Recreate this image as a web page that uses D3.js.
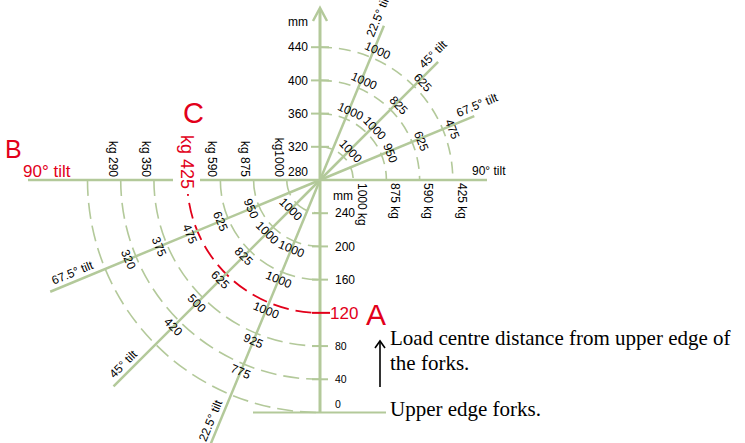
<!DOCTYPE html>
<html>
<head>
<meta charset="utf-8">
<script src="https://cdn.jsdelivr.net/npm/d3@7"></script>
<style>
  body { margin: 0; background: #fff; }
  svg { display: block; }
  text { font-family: "Liberation Sans", Arial, sans-serif; }
  text.note { font-family: "Liberation Serif", "Times New Roman", serif; }
</style>
</head>
<body>
<svg width="745" height="443"></svg>
<script>
var width = 745,
    height = 443;

// chart values
var upperTicks = [280, 320, 360, 400, 440];          // mm, tilted part of scale
var lowerTicks = [240, 200, 160, 120, 80, 40, 0];    // mm, upright part of scale
var tilts = [22.5, 45, 67.5];
// loads (kg) on each arc, by tilt 22.5 / 45 / 67.5
var upperLoads = [[null, 1000, null], [1000, 1000, 950], [1000, 825, 625], [1000, 625, 475]];
var lowerLoads = [[null, 1000, null], [1000, 1000, 950], [1000, 825, 625], [1000, 625, 475],
                  [925, 500, 375], [775, 420, 320], [null, null, null]];
// loads at 90 degree tilt
var upperFlat = [1000, 875, 590, 425];
var lowerFlat = [1000, 875, 590, 425, 350, 290];
var markedMm = 120, markedKg = 425;

var green = "#b3c99a", red = "#e2001a";
var cx = 320, cy = 180;

var svg = d3.select("svg");

// radius scales
var rUp = d3.scaleLinear().domain([280, 440]).range([0, 132.8]);
var rLow = d3.scaleLinear().domain([280, 0]).range([0, 232.5]);

var toRad = Math.PI / 180;

// arcs
var arcs = svg.append("g").attr("fill", "none");
upperTicks.slice(1).forEach(function (mm) {
    var r = rUp(mm), p = d3.path();
    p.moveTo(cx, cy - r);
    p.arc(cx, cy, r, -Math.PI / 2, 0);
    arcs.append("path").attr("d", p.toString())
        .attr("stroke", green).attr("stroke-width", 1.6)
        .attr("stroke-dasharray", "12,7");
});
lowerTicks.forEach(function (mm) {
    var r = rLow(mm), p = d3.path();
    p.moveTo(cx - r, cy);
    p.arc(cx, cy, r, Math.PI, Math.PI / 2, true);
    arcs.append("path").attr("d", p.toString())
        .attr("stroke", mm == markedMm ? red : green)
        .attr("stroke-width", mm == markedMm ? 1.8 : 1.6)
        .attr("stroke-dasharray", "16,7");
});

// radial tilt lines
var lines = svg.append("g").attr("stroke", green).attr("stroke-width", 2.5);
tilts.concat([90]).forEach(function (t) {
    var a = t * toRad;
    lines.append("line")
        .attr("x1", cx).attr("y1", cy)
        .attr("x2", cx + 167 * Math.sin(a)).attr("y2", cy - 167 * Math.cos(a));
    lines.append("line")
        .attr("x1", cx).attr("y1", cy)
        .attr("x2", cx - 292 * Math.sin(a)).attr("y2", cy + 292 * Math.cos(a));
});

// vertical axis
svg.append("line").attr("x1", cx).attr("x2", cx).attr("y1", 9).attr("y2", rLow(0) + cy)
    .attr("stroke", green).attr("stroke-width", 3);
svg.append("path").attr("d", "M" + (cx - 7) + ",21L" + cx + ",8L" + (cx + 7) + ",21")
    .attr("fill", "none").attr("stroke", green).attr("stroke-width", 2.5);
// upper edge forks
svg.append("line").attr("x1", 253).attr("x2", 386)
    .attr("y1", cy + rLow(0)).attr("y2", cy + rLow(0))
    .attr("stroke", green).attr("stroke-width", 2);

// ticks
upperTicks.slice(1).forEach(function (mm) {
    svg.append("line").attr("x1", cx - 9).attr("x2", cx + 9)
        .attr("y1", cy - rUp(mm)).attr("y2", cy - rUp(mm))
        .attr("stroke", green).attr("stroke-width", 2);
});
lowerTicks.slice(0, -1).forEach(function (mm) {
    svg.append("line").attr("x1", cx - 8).attr("x2", cx + (mm == markedMm ? 10 : 8))
        .attr("y1", cy + rLow(mm)).attr("y2", cy + rLow(mm))
        .attr("stroke", mm == markedMm ? red : green).attr("stroke-width", 2);
});

// tick labels
svg.append("g").selectAll("text").data(upperTicks).enter().append("text")
    .attr("x", 308).attr("y", function (d) { return Math.min(cy - rUp(d), cy - 8); })
    .attr("dy", "0.35em").attr("text-anchor", "end").attr("font-size", 12)
    .text(function (d) { return d; });
svg.append("text").attr("x", 308).attr("y", 26).attr("text-anchor", "end")
    .attr("font-size", 12).text("mm");
svg.append("g").selectAll("text").data(lowerTicks).enter().append("text")
    .attr("x", function (d) { return d == markedMm ? 330 : 335; })
    .attr("y", function (d) { return Math.min(cy + rLow(d), cy + rLow(0) - 8); })
    .attr("dy", "0.35em")
    .attr("font-size", function (d) { return d == markedMm ? 17 : (d < 120 ? 10.5 : 12); })
    .attr("fill", function (d) { return d == markedMm ? red : "#000"; })
    .text(function (d) { return d; });
svg.append("text").attr("x", 333).attr("y", 200).attr("font-size", 12).text("mm");

// load labels on arcs
var lab = svg.append("g").attr("font-size", 12).attr("text-anchor", "middle");
upperLoads.forEach(function (row, i) {
    var R = rUp(upperTicks[i + 1]) + 9;
    row.forEach(function (v, j) {
        if (v == null) return;
        var t = tilts[j] + 1.5, a = t * toRad;
        lab.append("text")
            .attr("transform", "translate(" + (cx + R * Math.sin(a)) + "," + (cy - R * Math.cos(a)) + ") rotate(" + t + ")")
            .attr("dy", "0.35em").text(v);
    });
});
lowerLoads.forEach(function (row, i) {
    var R = rLow(lowerTicks[i]) + 8;
    row.forEach(function (v, j) {
        if (v == null) return;
        var t = tilts[j], a = t * toRad;
        lab.append("text")
            .attr("transform", "translate(" + (cx - R * Math.sin(a)) + "," + (cy + R * Math.cos(a)) + ") rotate(" + t + ")")
            .attr("dy", "0.35em").text(v);
    });
});

// 90 degree loads
upperFlat.forEach(function (v, i) {
    svg.append("text")
        .attr("transform", "translate(" + (cx + rUp(upperTicks[i + 1]) + 9) + "," + (cy + 3) + ") rotate(90)")
        .attr("dy", "0.35em").attr("font-size", 12).text(v + " kg");
});
// gap behind the marked load
svg.append("rect").attr("x", 173).attr("y", 128).attr("width", 27).attr("height", 66).attr("fill", "#fff");
lowerFlat.forEach(function (v, i) {
    var x = cx - rLow(lowerTicks[i]);
    var marked = v == markedKg;
    svg.append("text")
        .attr("transform", "translate(" + (marked ? x : x - 8) + "," + (marked ? 189 : 177) + ") rotate(90)")
        .attr("dy", "0.35em").attr("text-anchor", "end")
        .attr("font-size", marked ? 18 : 12)
        .attr("fill", marked ? red : "#000")
        .text(v == 1000 ? "kg" + v : "kg " + v);
});

// tilt labels
tilts.concat([90]).forEach(function (t) {
    var a = t * toRad, rot = -(90 - t);
    svg.append("text")
        .attr("transform", "translate(" + (cx + 152 * Math.sin(a)) + "," + (cy - 152 * Math.cos(a)) + ") rotate(" + rot + ")")
        .attr("y", -5).attr("font-size", 12).text(t + "° tilt");
});
tilts.forEach(function (t) {
    var a = t * toRad, rot = -(90 - t);
    svg.append("text")
        .attr("transform", "translate(" + (cx - 286 * Math.sin(a)) + "," + (cy + 286 * Math.cos(a)) + ") rotate(" + rot + ")")
        .attr("y", -5).attr("font-size", 12).text(t + "° tilt");
});
svg.append("text").attr("x", 23).attr("y", 177).attr("font-size", 17).attr("fill", red).text("90° tilt");

// letters
svg.append("text").attr("x", 5).attr("y", 158).attr("font-size", 25).attr("fill", red).text("B");
svg.append("text").attr("x", 183).attr("y", 123).attr("font-size", 29).attr("fill", red).text("C");
svg.append("text").attr("x", 366).attr("y", 325).attr("font-size", 30).attr("fill", red).text("A");

// notes
var note = svg.append("g").attr("font-size", 21);
note.append("text").attr("class", "note").attr("x", 390).attr("y", 345).text("Load centre distance from upper edge of");
note.append("text").attr("class", "note").attr("x", 390).attr("y", 370).text("the forks.");
note.append("text").attr("class", "note").attr("x", 390).attr("y", 416).text("Upper edge forks.");
svg.append("line").attr("x1", 380).attr("x2", 380).attr("y1", 387).attr("y2", 341)
    .attr("stroke", "#000").attr("stroke-width", 1.6);
svg.append("path").attr("d", "M375,348L380,341L385,348").attr("fill", "none")
    .attr("stroke", "#000").attr("stroke-width", 1.6);
</script>
</body>
</html>
